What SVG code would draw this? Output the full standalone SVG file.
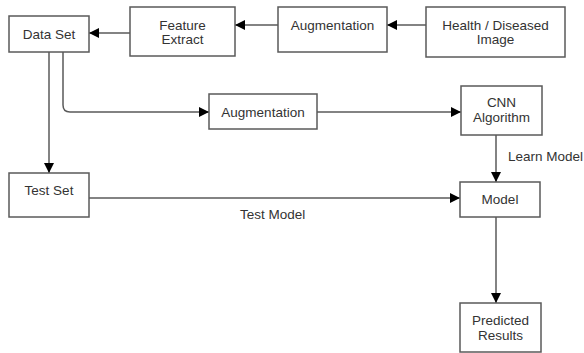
<svg xmlns="http://www.w3.org/2000/svg" width="584" height="353" viewBox="0 0 584 353">
  <style>
    .box { fill: #ffffff; stroke: #5a5a5a; stroke-width: 1.5; }
    .lbl { font-family: "Liberation Sans", Arial, sans-serif; font-size: 13.5px; fill: #333333; text-anchor: middle; dominant-baseline: central; }
    .edge { fill: none; stroke: #5a5a5a; stroke-width: 1.5; }
    .elbl { font-family: "Liberation Sans", Arial, sans-serif; font-size: 13.5px; fill: #333333; dominant-baseline: central; }
  </style>
  <defs>
    <marker id="arrow" viewBox="0 0 10 10" refX="10" refY="5" markerWidth="10" markerHeight="10" markerUnits="userSpaceOnUse" orient="auto">
      <path d="M0,0 L10,5 L0,10 Z" fill="#000000"/>
    </marker>
  </defs>

  <rect width="584" height="353" fill="#ffffff"/>

  <g id="connectors">
    <!-- Health / Diseased Image to Augmentation -->
    <line class="edge" x1="426" y1="25" x2="387" y2="25" marker-end="url(#arrow)"/>
    <!-- Augmentation to Feature Extract -->
    <line class="edge" x1="278" y1="25" x2="235" y2="25" marker-end="url(#arrow)"/>
    <!-- Feature Extract to Data Set -->
    <line class="edge" x1="130" y1="33" x2="89" y2="33" marker-end="url(#arrow)"/>
    <!-- Data Set to Augmentation (training branch) -->
    <path class="edge" d="M63,52 L63,105 Q63,112 70,112 L209,112" marker-end="url(#arrow)"/>
    <!-- Augmentation to CNN Algorithm -->
    <line class="edge" x1="317" y1="112" x2="461" y2="112" marker-end="url(#arrow)"/>
    <!-- Data Set to Test Set -->
    <line class="edge" x1="49" y1="52" x2="49" y2="173" marker-end="url(#arrow)"/>
    <!-- Test Set to Model -->
    <line class="edge" x1="89" y1="198" x2="460" y2="198" marker-end="url(#arrow)"/>
    <text class="elbl" x="240" y="214">Test Model</text>
    <!-- CNN Algorithm to Model -->
    <line class="edge" x1="496" y1="135" x2="496" y2="182" marker-end="url(#arrow)"/>
    <text class="elbl" x="508" y="156">Learn Model</text>
    <!-- Model to Predicted Results -->
    <line class="edge" x1="496" y1="217" x2="496" y2="303" marker-end="url(#arrow)"/>
  </g>

  <g id="data-set">
    <rect class="box" x="9" y="16" width="80" height="36"/>
    <text class="lbl" x="49" y="34">Data Set</text>
  </g>

  <g id="feature-extract">
    <rect class="box" x="130" y="7" width="105" height="49"/>
    <text class="lbl" x="182.5" y="25">Feature</text>
    <text class="lbl" x="182.5" y="39">Extract</text>
  </g>

  <g id="augmentation-top">
    <rect class="box" x="278" y="7" width="109" height="45"/>
    <text class="lbl" x="332.5" y="25">Augmentation</text>
  </g>

  <g id="image-source">
    <rect class="box" x="426" y="7" width="139" height="50"/>
    <text class="lbl" x="495.5" y="25">Health / Diseased</text>
    <text class="lbl" x="495.5" y="39">Image</text>
  </g>

  <g id="augmentation-mid">
    <rect class="box" x="209" y="94" width="108" height="35"/>
    <text class="lbl" x="263" y="112">Augmentation</text>
  </g>

  <g id="cnn-algorithm">
    <rect class="box" x="461" y="86" width="81" height="49"/>
    <text class="lbl" x="501.5" y="102">CNN</text>
    <text class="lbl" x="501.5" y="117">Algorithm</text>
  </g>

  <g id="test-set">
    <rect class="box" x="9" y="173" width="80" height="44"/>
    <text class="lbl" x="49" y="190">Test Set</text>
  </g>

  <g id="model">
    <rect class="box" x="460" y="182" width="80" height="35"/>
    <text class="lbl" x="500" y="199">Model</text>
  </g>

  <g id="predicted-results">
    <rect class="box" x="460" y="303" width="81" height="49"/>
    <text class="lbl" x="500.5" y="320">Predicted</text>
    <text class="lbl" x="500.5" y="335">Results</text>
  </g>
</svg>
